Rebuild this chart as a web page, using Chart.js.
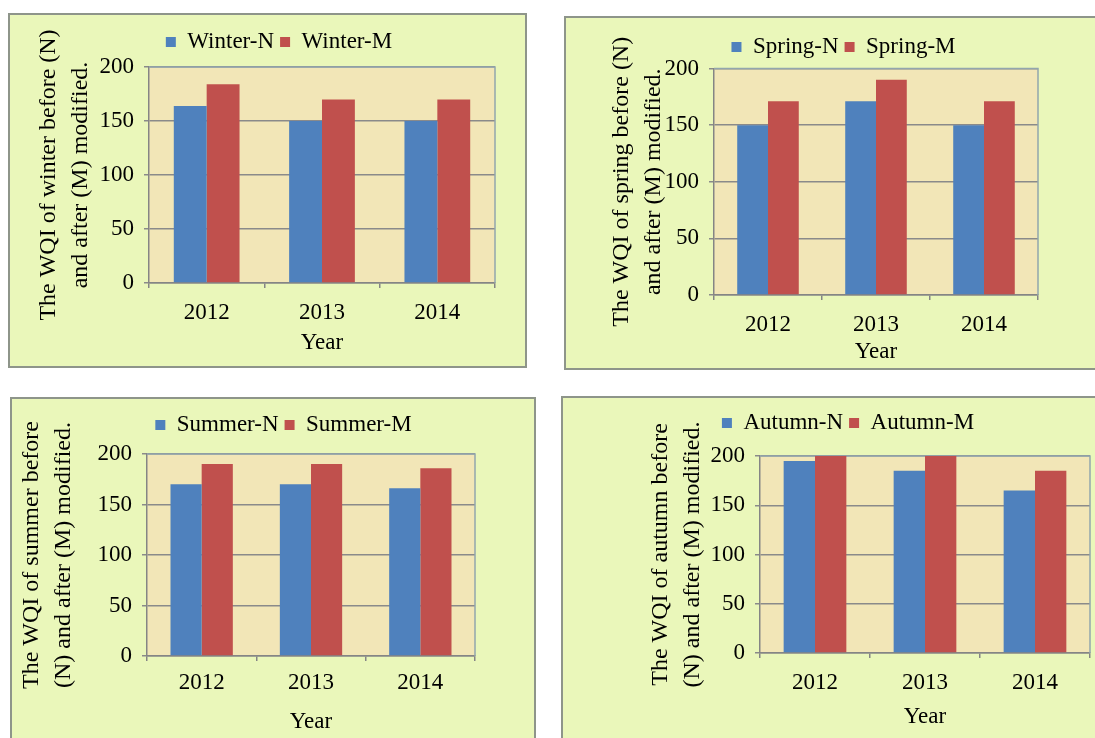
<!DOCTYPE html>
<html>
<head>
<meta charset="utf-8">
<script src="https://cdn.jsdelivr.net/npm/chart.js@4.4.0/dist/chart.umd.min.js"></script>
<style>
  body { margin: 0; background: #fff; width: 1095px; height: 738px; overflow: hidden; position: relative; }
  .panel { position: absolute; border: 2px solid #8e958a; background: #eaf7ba; }
  .panel canvas { display: block; }
</style>
</head>
<body>
<div class="panel" id="p-winter"><canvas id="c-winter" width="515" height="351"></canvas></div>
<div class="panel" id="p-spring"><canvas id="c-spring" width="532" height="350"></canvas></div>
<div class="panel" id="p-summer"><canvas id="c-summer" width="522" height="344"></canvas></div>
<div class="panel" id="p-autumn"><canvas id="c-autumn" width="535" height="345"></canvas></div>
<script>
// datos
const years = ['2012', '2013', '2014'];
const yTicks = [0, 50, 100, 150, 200];

const winterN = [164, 150, 150];
const winterM = [184, 170, 170];
const springN = [150, 171, 150];
const springM = [171, 190, 171];
const summerN = [170, 170, 166];
const summerM = [190, 190, 186];
const autumnN = [195, 185, 165];
const autumnM = [200, 200, 185];

const winterTitle = ['The WQI of winter before (N)', 'and after (M) modified.'];
const springTitle = ['The WQI of spring before (N)', 'and after (M) modified.'];
const summerTitle = ['The WQI of summer before', '(N) and after (M) modified.'];
const autumnTitle = ['The WQI of autumn before', '(N) and after (M) modified.'];

// posicion de cada panel (solo estilo)
const panels = [
  { key: 'winter', name: 'Winter', n: winterN, m: winterM, title: winterTitle,
    box: [8, 13], pad: { left: 0, right: 30, top: 9.5, bottom: 9.2 }, gap: 3.5, dx: 26.5,
    yWidth: 139, titlePad: 23, xPad: 11, xHeight: 73.8 },
  { key: 'spring', name: 'Spring', n: springN, m: springM, title: springTitle,
    box: [564, 16], pad: { left: 0, right: 60, top: 11.5, bottom: 2.2 }, gap: 0, dx: 41.5,
    yWidth: 148, titlePad: 40, xPad: 11, xHeight: 70.8 },
  { key: 'summer', name: 'Summer', n: summerN, m: summerM, title: summerTitle,
    box: [10, 397], pad: { left: 0, right: 59, top: 8.5, bottom: 7.2 }, gap: 7.5, dx: 40,
    yWidth: 135, titlePad: 4, xPad: 8, xHeight: 79.8 },
  { key: 'autumn', name: 'Autumn', n: autumnN, m: autumnM, title: autumnTitle,
    box: [561, 396], pad: { left: 0, right: 8, top: 7.5, bottom: 12.2 }, gap: 11.5, dx: 21.5,
    yWidth: 197, titlePad: 82, xPad: 11, xHeight: 77.8 }
];

const serif = 'Liberation Serif, Times New Roman, serif';
Chart.defaults.font.family = serif;
Chart.defaults.color = '#000';

// fondo del area de grafico y borde superior/derecho
const plotBack = {
  id: 'plotBack',
  beforeDraw(chart) {
    const { ctx, chartArea: a } = chart;
    ctx.save();
    ctx.fillStyle = '#f2e6b7';
    ctx.fillRect(a.left, a.top, a.width, a.height);
    ctx.restore();
  },
  beforeDatasetsDraw(chart) {
    const { ctx, chartArea: a } = chart;
    ctx.save();
    ctx.strokeStyle = '#93a6ad';
    ctx.lineWidth = 1.5;
    ctx.beginPath();
    ctx.moveTo(a.left, a.top);
    ctx.lineTo(a.right, a.top);
    ctx.lineTo(a.right, a.bottom);
    ctx.stroke();
    ctx.restore();
  }
};

// mover la leyenda y dejar espacio bajo ella
const legendPlace = {
  id: 'legendPlace',
  beforeLayout(chart, args, opts) {
    const legend = chart.legend;
    if (legend && !legend._gapDone) {
      const fit = legend.fit;
      legend.fit = function () {
        fit.call(this);
        this.height += opts.gap;
      };
      legend._gapDone = true;
    }
  },
  afterLayout(chart, args, opts) {
    chart.legend.left += opts.dx;
    chart.legend.right += opts.dx;
  }
};

panels.forEach(p => {
  const div = document.getElementById('p-' + p.key);
  div.style.left = p.box[0] + 'px';
  div.style.top = p.box[1] + 'px';

  new Chart(document.getElementById('c-' + p.key), {
    type: 'bar',
    data: {
      labels: years,
      datasets: [
        { label: p.name + '-N', data: p.n, backgroundColor: '#4f81bd' },
        { label: p.name + '-M', data: p.m, backgroundColor: '#c0504d' }
      ]
    },
    options: {
      responsive: false,
      animation: false,
      layout: { padding: p.pad },
      datasets: { bar: { categoryPercentage: 0.57, barPercentage: 1 } },
      scales: {
        x: {
          grid: { drawOnChartArea: false, drawTicks: true, tickLength: 5, color: '#858585', lineWidth: 1.5 },
          border: { color: '#858585', width: 1.5 },
          ticks: { padding: p.xPad, font: { size: 23 } },
          title: { display: true, text: 'Year', font: { size: 23 }, padding: 0 },
          afterFit(scale) { scale.height = p.xHeight; }
        },
        y: {
          min: 0,
          max: 200,
          afterBuildTicks(scale) { scale.ticks = yTicks.map(v => ({ value: v })); },
          grid: { color: '#8a8a8a', lineWidth: 1.5, tickLength: 5 },
          border: { color: '#858585', width: 1.5 },
          ticks: { padding: 10, font: { size: 23 } },
          title: {
            display: true,
            text: p.title,
            font: { size: 24, lineHeight: 1.33 },
            padding: { top: p.titlePad, bottom: 0 }
          },
          afterFit(scale) { scale.width = p.yWidth; }
        }
      },
      plugins: {
        legend: {
          position: 'top',
          labels: { boxWidth: 10, boxHeight: 10, padding: 6, font: { size: 23 } }
        },
        tooltip: { enabled: false },
        legendPlace: { gap: p.gap, dx: p.dx }
      }
    },
    plugins: [plotBack, legendPlace]
  });
});
</script>
</body>
</html>
